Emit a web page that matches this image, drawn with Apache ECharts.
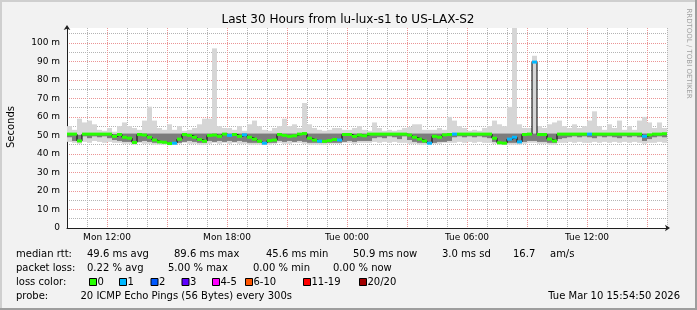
<!DOCTYPE html>
<html><head><meta charset="utf-8">
<script src="https://cdn.jsdelivr.net/npm/echarts@6/dist/echarts.min.js"></script>
<style>html,body{margin:0;padding:0;background:#f2f2f2}#c{width:697px;height:310px}</style>
</head><body><div id="c"></div>
<script>
// time: hours since Mon 00:00, one sample per 15 minutes from Mon 10:00
const startHour = 10;
const stepHours = 0.25;
const median = [
50.7,50.7,47.0,50.7,50.7,50.7,50.7,50.7,50.7,49.5,
50.5,49.0,48.5,46.2,50.5,50.2,49.0,47.5,46.5,46.3,
45.6,45.8,48.0,50.5,50.0,49.0,47.8,46.9,50.0,50.2,
49.5,50.7,50.0,50.5,49.5,50.3,49.0,48.0,46.9,45.8,
47.2,47.5,50.5,50.0,49.5,49.8,50.7,51.0,48.5,47.5,
46.9,46.8,47.2,47.8,47.5,50.5,50.5,49.5,50.2,49.8,
50.7,50.7,50.7,50.7,50.7,50.7,50.7,50.7,50.2,49.0,
48.0,47.0,45.8,49.5,49.0,50.3,50.5,50.7,50.7,50.7,
50.7,50.7,50.7,50.7,50.7,48.5,46.0,45.8,48.0,49.0,
46.5,50.5,50.7,89.6,50.5,50.5,48.0,47.0,50.7,50.7,
50.7,50.7,50.7,50.7,50.7,50.7,50.7,50.7,50.7,50.7,
50.7,50.7,50.7,50.7,50.7,49.5,50.3,50.7,50.7,50.9];
const loss = [
0,0,0,0,0,0,0,0,0,0, 0,0,0,0,0,0,0,0,0,0,
0,1,0,0,0,0,0,0,0,0, 0,0,1,0,0,1,0,0,0,1,
0,0,0,0,0,0,0,0,0,0, 1,0,0,0,1,0,0,0,0,0,
0,0,0,0,0,0,0,0,0,0, 0,0,1,0,0,0,0,1,0,0,
0,0,0,0,0,0,0,0,1,1, 1,0,0,1,0,0,0,0,0,0,
0,0,0,0,1,0,0,0,0,0, 0,0,0,0,0,1,0,0,0,0];
const smokeLo = [
46.5,46,45.5,46.5,46,47,46.5,46,46.5,46,
46,45.5,45.5,45,46,45.5,45.5,45,45,45,
44.8,45,45.5,46,45.5,45.5,45,45,45.5,46,
45.5,46,45.5,46,45.5,45.5,45,45,45,44.8,
45,45.5,46,45.5,45.5,46,46,45.5,45,45,
45,45,45.5,45.5,45.5,46,46,45.5,46,46,
46,46.5,46,46.5,46,46.5,46,46,45.5,45.5,
45,45,44.8,45.5,45.5,46,46,46,46.5,46,
46.5,46,46.5,46,46,45.5,45,44.8,45,45,
45,45.5,46,46,45.5,45.5,45,45,46,46,
46.5,46,46.5,46,46,46.5,46,46.5,46,46.5,
46,46.5,46,46.5,46,45.5,46,46,46.5,46];
const smokeHi = [
55,53,59,57,58,56,53,52.5,54,52,
55,57,55,54,53,58,65.5,58,54,53,
56,53,55,52.5,53,54,56,59,59,97,
55,54,54,53,55,52.5,56,58,55,53,
52.5,54,55,59,55,56,54,67.5,56,54,
53,52.5,53,54,54,53,53,54,55,53,
52.5,57,54,52.5,53,52.5,53,54,54.5,56,
56,53,53,53,54,53,60,58,55,54,
52.5,53,52.5,54,55,58,56,55,65.4,108,
56,54,54,93,55,54,56,57,58,55,
54,56,54,55,58,63,55,53,56,54,
58,53,55,53,58,60,57,54,57,54];
const coreLo = [
49,47,46.5,49.5,48.5,49.5,49,49.5,48.5,47.5,
47,46.5,46.5,46,46.5,47,46.5,46,46,45.8,
45.5,45.5,46,46.5,47,46.5,46,46,47,46.5,
47,46.5,47,46.5,47,46.5,46,46,46,45.5,
46,46,47,46.5,47,46.5,47,46.5,46,46,
46,46,46,46,46,46.5,47,46.5,47,47,
47,48.5,49,48.5,49.5,49,48,49.5,47.5,46.5,
46,46,45.5,46,46.5,46.5,47,49,49.5,49,
49.5,49,49.5,49,48.5,46.5,45.5,45.5,46,46,
46,46.5,47,47,46.5,46.5,46,46,48,48.5,
49,49.5,49,49.5,49,48.5,49.5,49,49.5,49,
48.5,49.5,49,49.5,49,47,48,49,49.5,49];
const coreHi = [
50.3,50.3,50.3,50.3,50.3,50.3,50.3,50.3,50.3,50.8,
51,51,51,51,51,51,51,51,51,51,
51,51,51,51,51,51,51,51,51,51,
51,51,51,51,51,51,51,51,51,51,
51,51,51,51,51,51,51,51,51,51,
51,51,51,51,51,51,51,51,51,51,
50.3,50.3,50.3,50.3,50.3,50.3,50.3,50.3,51,51,
51,51,51,51,51,51,51,50.3,50.3,50.3,
50.3,50.3,50.3,50.3,50.5,51,51,51,51,51,
51,51,51,51,51,51,51,51,50.3,50.3,
50.3,50.3,50.3,50.3,50.3,50.3,50.3,50.3,50.3,50.3,
50.3,50.3,50.3,50.3,50.3,51,50.5,50.3,50.3,50.3];
const xTickLabels = {12:'Mon 12:00', 18:'Mon 18:00', 24:'Tue 00:00', 30:'Tue 06:00', 36:'Tue 12:00'};
const titleText = 'Last 30 Hours from lu-lux-s1 to US-LAX-S2';
const rttRow = ['median rtt:', '49.6 ms avg', '89.6 ms max', '45.6 ms min', '50.9 ms now', '3.0 ms sd', '16.7', 'am/s'];
const lossRow = ['packet loss:', '0.22 % avg', '5.00 % max', '0.00 % min', '0.00 % now'];
const lossLegend = ['0', '1', '2', '3', '4-5', '6-10', '11-19', '20/20'];
const probeRow = ['probe:', '20 ICMP Echo Pings (56 Bytes) every 300s'];
const stampText = 'Tue Mar 10 15:54:50 2026';
const watermark = 'RRDTOOL / TOBI OETIKER';

// styles
const lossColors = ['#26ff00', '#00b8ff', '#0059ff', '#5e00ff', '#ff00ff', '#ff5500', '#ff0000', '#a10000'];
function lossIndex(n) { return n <= 3 ? n : n <= 5 ? 4 : n <= 10 ? 5 : n < 20 ? 6 : 7; }
const FONT = '"DejaVu Sans", sans-serif';

const rows = median.map((m, i) => [startHour + i * stepHours, smokeLo[i], smokeHi[i], coreLo[i], coreHi[i], m, loss[i]]);
const stepLine = median.map((m, i) => [startHour + i * stepHours, m]);
stepLine.push([startHour + median.length * stepHours, median[median.length - 1]]);

function bandRender(loIdx, hiIdx, fill) {
  return function (params, api) {
    const t = api.value(0);
    const a = api.coord([t, api.value(hiIdx)]);
    const b = api.coord([t + stepHours, api.value(loIdx)]);
    return { type: 'rect', shape: { x: a[0], y: a[1], width: b[0] - a[0], height: b[1] - a[1] }, style: { fill: fill } };
  };
}
function medRender(params, api) {
  const t = api.value(0), m = api.value(5);
  const a = api.coord([t, m]);
  const b = api.coord([t + stepHours, m]);
  return { type: 'rect', shape: { x: a[0], y: a[1] - 1.5, width: b[0] - a[0], height: 3 },
           style: { fill: lossColors[lossIndex(api.value(6))] } };
}

const gfx = [];
function txt(s, x, y, opt) {
  gfx.push(Object.assign({ type: 'text', x: x, y: y, silent: true,
    style: Object.assign({ text: s, font: '10px ' + FONT, fill: '#000', textVerticalAlign: 'middle' }, (opt && opt.style) || {}) },
    opt && opt.rotation ? { rotation: opt.rotation } : {}));
}
// frame shading
gfx.push({ type: 'rect', shape: { x: 0, y: 0, width: 697, height: 2 }, style: { fill: '#cfcfcf' }, silent: true });
gfx.push({ type: 'rect', shape: { x: 0, y: 0, width: 2, height: 310 }, style: { fill: '#cfcfcf' }, silent: true });
gfx.push({ type: 'rect', shape: { x: 695, y: 0, width: 2, height: 310 }, style: { fill: '#9e9e9e' }, silent: true });
gfx.push({ type: 'rect', shape: { x: 0, y: 308, width: 697, height: 2 }, style: { fill: '#9e9e9e' }, silent: true });

txt(titleText, 348, 19.8, { style: { font: '12px ' + FONT, textAlign: 'center' } });
txt(watermark, 688.5, 53.5, { rotation: -Math.PI / 2, style: { font: '7px ' + FONT, fill: '#a0a0a0', textAlign: 'center' } });
txt('Seconds', 11, 127, { rotation: Math.PI / 2, style: { textAlign: 'center' } });

const rttX = [16, 87, 174, 266, 353, 442, 513, 550];
rttRow.forEach((s, i) => txt(s, rttX[i], 254.5));
const lossX = [16, 87, 168, 253, 333];
lossRow.forEach((s, i) => txt(s, lossX[i], 268.5));
txt('loss color:', 16, 282.5);
const boxX = [89, 119, 150.5, 181.5, 212, 245, 303, 359];
lossLegend.forEach((s, i) => {
  gfx.push({ type: 'rect', silent: true, shape: { x: boxX[i] + 0.5, y: 278.5, width: 7, height: 7 },
             style: { fill: lossColors[i], stroke: '#000', lineWidth: 1 } });
  txt(s, boxX[i] + 8.5, 282.5);
});
txt(probeRow[0], 16, 296.5);
txt(probeRow[1], 80.5, 296.5);
txt(stampText, 680, 296.5, { style: { textAlign: 'right' } });

const chart = echarts.init(document.getElementById('c'), null, { renderer: 'canvas' });
chart.setOption({
  animation: false,
  backgroundColor: '#f2f2f2',
  grid: { left: 67, right: 30, top: 28, bottom: 82, containLabel: false, backgroundColor: '#ffffff', show: true, borderWidth: 0 },
  xAxis: {
    type: 'value', min: 10, max: 40, interval: 1,
    axisLine: { lineStyle: { color: '#1f1f1f', width: 1 }, symbol: ['none', 'arrow'], symbolSize: [5, 5], symbolOffset: [0, 3] },
    axisTick: { show: false },
    axisLabel: { fontFamily: FONT, fontSize: 9, color: '#000', margin: 5,
                 formatter: v => xTickLabels[v] || '' },
    splitLine: { show: true, lineStyle: { color: ['#b4b4b4', '#b4b4b4', '#eb9595'], type: [1, 1], width: 1 } }
  },
  yAxis: {
    type: 'value', min: 0, max: 108, interval: 5,
    axisLine: { show: true, lineStyle: { color: '#1f1f1f', width: 1 }, symbol: ['none', 'arrow'], symbolSize: [5, 5], symbolOffset: [0, 3] },
    axisTick: { show: false },
    axisLabel: { fontFamily: FONT, fontSize: 9, color: '#000', margin: 7,
                 formatter: v => (v % 10 === 0 ? (v === 0 ? '0' : v + ' m') : '') },
    splitLine: { show: true, showMaxLine: false, lineStyle: { color: ['#eb9595', '#b4b4b4'], type: [1, 1], width: 1 } }
  },
  series: [
    { type: 'custom', data: rows, renderItem: bandRender(1, 2, '#d6d6d6'), clip: true, silent: true, z: 2 },
    { type: 'custom', data: rows, renderItem: bandRender(3, 4, '#7c7c7c'), clip: true, silent: true, z: 3 },
    { type: 'line', data: stepLine, step: 'end', symbol: 'none', lineStyle: { color: '#000', width: 1 }, silent: true, z: 4 },
    { type: 'custom', data: rows, renderItem: medRender, clip: true, silent: true, z: 5 }
  ],
  graphic: gfx
});
</script>
</body></html>
